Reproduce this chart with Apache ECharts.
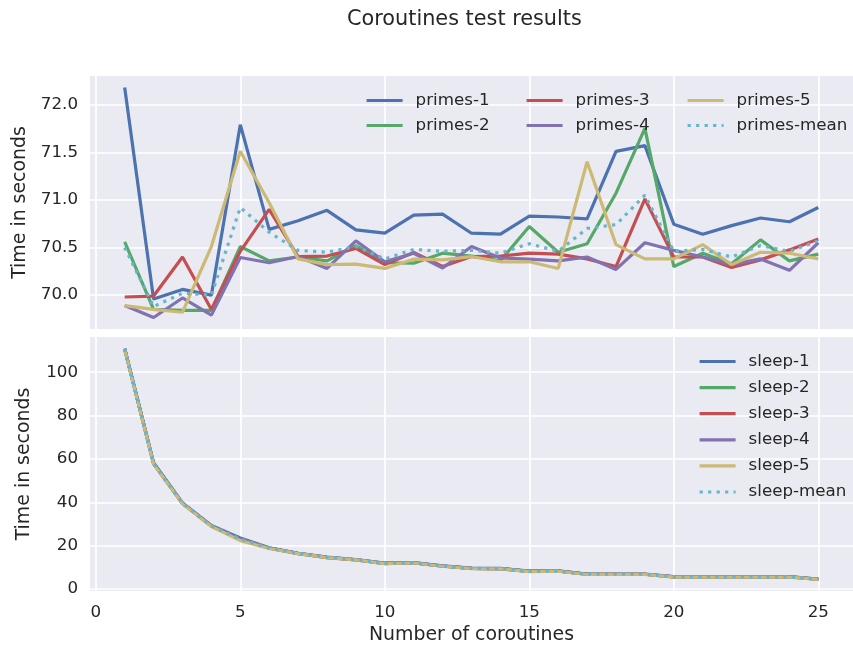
<!DOCTYPE html>
<html>
<head>
<meta charset="utf-8">
<title>Coroutines test results</title>
<script src="https://cdn.jsdelivr.net/npm/echarts@6/dist/echarts.min.js"></script>
<style>
  html, body { margin: 0; padding: 0; background: #ffffff; }
  #chart { width: 853px; height: 646px; }
</style>
</head>
<body>
<div id="chart"></div>
<script>
// Number of coroutines on the x axis
const coroutines = [1, 2, 3, 4, 5, 6, 7, 8, 9, 10, 11, 12, 13, 14, 15, 16, 17, 18, 19, 20, 21, 22, 23, 24, 25];

// Tick labels
const xTicks = [0, 5, 10, 15, 20, 25];
const primesTicks = [70.0, 70.5, 71.0, 71.5, 72.0];
const sleepTicks = [0, 20, 40, 60, 80, 100];

// CPU-bound runs (seconds)
const primes1 = [72.18, 69.96, 70.06, 70.00, 71.79, 70.69, 70.78, 70.89, 70.685, 70.65, 70.84, 70.85, 70.65, 70.64, 70.83, 70.82, 70.80, 71.51, 71.57, 70.745, 70.64, 70.73, 70.81, 70.77, 70.92];
const primes2 = [70.56, 69.85, 69.84, 69.84, 70.51, 70.36, 70.40, 70.36, 70.52, 70.34, 70.335, 70.44, 70.41, 70.36, 70.72, 70.45, 70.54, 71.07, 71.75, 70.30, 70.44, 70.33, 70.58, 70.36, 70.43];
const primes3 = [69.98, 69.99, 70.40, 69.85, 70.46, 70.90, 70.405, 70.41, 70.49, 70.32, 70.447, 70.30, 70.405, 70.41, 70.44, 70.43, 70.38, 70.30, 71.01, 70.40, 70.40, 70.29, 70.37, 70.475, 70.59];
const primes4 = [69.89, 69.765, 69.97, 69.79, 70.395, 70.34, 70.405, 70.28, 70.57, 70.35, 70.44, 70.285, 70.51, 70.39, 70.377, 70.36, 70.40, 70.27, 70.55, 70.47, 70.40, 70.32, 70.38, 70.26, 70.55];
const primes5 = [69.89, 69.85, 69.82, 70.51, 71.51, 70.97, 70.38, 70.32, 70.325, 70.28, 70.377, 70.37, 70.405, 70.35, 70.35, 70.28, 71.40, 70.53, 70.38, 70.38, 70.53, 70.32, 70.45, 70.44, 70.38];
const primesMean = [70.50, 69.88, 70.02, 70.00, 70.92, 70.66, 70.47, 70.45, 70.51, 70.38, 70.48, 70.46, 70.47, 70.44, 70.54, 70.46, 70.70, 70.74, 71.05, 70.46, 70.48, 70.40, 70.52, 70.46, 70.57];

// IO-bound (sleep) runs (seconds)
const sleep1 = [110.9, 58.2, 39.7, 29.3, 23.5, 19.0, 16.5, 14.7, 13.6, 11.9, 12.2, 10.7, 9.6, 9.5, 8.2, 8.4, 6.9, 6.9, 6.9, 5.7, 5.7, 5.7, 5.7, 5.7, 4.6];
const sleep2 = [110.6, 57.8, 39.4, 29.1, 23.0, 18.9, 16.4, 14.6, 13.5, 11.8, 12.1, 10.6, 9.5, 9.4, 8.1, 8.3, 6.8, 6.8, 6.8, 5.6, 5.6, 5.6, 5.6, 5.6, 4.5];
const sleep3 = [110.7, 57.9, 39.5, 29.0, 22.9, 18.8, 16.4, 14.5, 13.4, 11.8, 12.0, 10.6, 9.5, 9.4, 8.1, 8.3, 6.8, 6.8, 6.8, 5.6, 5.6, 5.6, 5.6, 5.6, 4.5];
const sleep4 = [110.8, 57.9, 39.6, 29.1, 23.1, 18.9, 16.3, 14.6, 13.5, 11.7, 12.1, 10.5, 9.5, 9.3, 8.1, 8.2, 6.8, 6.8, 6.8, 5.6, 5.6, 5.6, 5.6, 5.6, 4.5];
const sleep5 = [110.5, 57.6, 39.3, 28.8, 22.3, 18.7, 16.3, 14.5, 13.4, 11.7, 12.0, 10.5, 9.4, 9.3, 8.0, 8.2, 6.7, 6.7, 6.7, 5.5, 5.5, 5.5, 5.5, 5.5, 4.4];
const sleepMean = [110.7, 57.9, 39.5, 29.1, 23.0, 18.9, 16.4, 14.6, 13.5, 11.8, 12.1, 10.6, 9.5, 9.4, 8.1, 8.3, 6.8, 6.8, 6.8, 5.6, 5.6, 5.6, 5.6, 5.6, 4.5];

const FONT = "'DejaVu Sans', sans-serif";
const TEXT = '#262626';
const palette = ['#4C72B0', '#55A868', '#C44E52', '#8172B2', '#CCB974', '#64B5CD'];
const LINE_W = 3.2;

// 5% padding around the data range on every axis
const padMin = v => v.min - 0.05 * (v.max - v.min);
const padMax = v => v.max + 0.05 * (v.max - v.min);

function lineSeries(name, values, color, dotted, idx) {
  return {
    name: name,
    type: 'line',
    xAxisIndex: idx,
    yAxisIndex: idx,
    data: coroutines.map((c, i) => [c, values[i]]),
    showSymbol: false,
    symbol: 'none',
    animation: false,
    color: color,
    lineStyle: {
      color: color,
      width: LINE_W,
      type: dotted ? [3.2, 5.3] : 'solid',
      cap: 'butt'
    },
    emphasis: { disabled: true }
  };
}

function xAxisDef(idx, withLabels) {
  return {
    type: 'value',
    gridIndex: idx,
    min: padMin,
    max: padMax,
    axisLine: { show: false },
    axisTick: { show: false, customValues: xTicks },
    axisLabel: {
      show: withLabels,
      customValues: xTicks,
      margin: 13,
      color: TEXT,
      fontFamily: FONT,
      fontSize: 16.7
    },
    splitLine: { show: true, lineStyle: { color: '#ffffff', width: 1.7 } },
    name: withLabels ? 'Number of coroutines' : '',
    nameLocation: 'middle',
    nameGap: 35,
    nameTextStyle: { color: TEXT, fontFamily: FONT, fontSize: 18.9 }
  };
}

function yAxisDef(idx, ticks, digits) {
  return {
    type: 'value',
    gridIndex: idx,
    min: padMin,
    max: padMax,
    axisLine: { show: false },
    axisTick: { show: false, customValues: ticks },
    axisLabel: {
      customValues: ticks,
      margin: 12,
      color: TEXT,
      fontFamily: FONT,
      fontSize: 16.7,
      formatter: v => v.toFixed(digits)
    },
    splitLine: { show: true, lineStyle: { color: '#ffffff', width: 1.7 } },
    name: 'Time in seconds',
    nameLocation: 'middle',
    nameGap: 56,
    nameTextStyle: { color: TEXT, fontFamily: FONT, fontSize: 18.9 }
  };
}

function legendDef(names, left, top, gap) {
  return {
    data: names,
    orient: 'vertical',
    left: left,
    top: top,
    padding: 0,
    itemWidth: 36,
    itemHeight: 20,
    itemGap: gap,
    selectedMode: false,
    // only the line sample is shown, no marker on it
    itemStyle: { opacity: 0 },
    lineStyle: { width: LINE_W },
    formatter: '{t|{name}}',
    textStyle: {
      color: TEXT,
      fontFamily: FONT,
      fontSize: 16.7,
      rich: { t: { color: TEXT, fontFamily: FONT, fontSize: 16.7, padding: [0, 0, 0, 8] } }
    }
  };
}

const chart = echarts.init(document.getElementById('chart'), null, { renderer: 'canvas' });

chart.setOption({
  backgroundColor: '#ffffff',
  animation: false,
  title: {
    text: 'Coroutines test results',
    left: 347,
    top: 9,
    padding: 0,
    textStyle: { color: TEXT, fontFamily: FONT, fontSize: 20.8, fontWeight: 'normal' }
  },
  legend: [
    legendDef(['primes-1', 'primes-2'], 365, 92, 8),
    legendDef(['primes-3', 'primes-4'], 525, 92, 8),
    legendDef(['primes-5', 'primes-mean'], 686, 92, 8),
    legendDef(['sleep-1', 'sleep-2', 'sleep-3', 'sleep-4', 'sleep-5', 'sleep-mean'], 698, 353, 9.1)
  ],
  grid: [
    { left: 90, top: 76, width: 775, height: 253, show: true, backgroundColor: '#EAEAF2', borderWidth: 0 },
    { left: 90, top: 337, width: 775, height: 255, show: true, backgroundColor: '#EAEAF2', borderWidth: 0 }
  ],
  xAxis: [xAxisDef(0, false), xAxisDef(1, true)],
  yAxis: [yAxisDef(0, primesTicks, 1), yAxisDef(1, sleepTicks, 0)],
  series: [
    lineSeries('primes-1', primes1, palette[0], false, 0),
    lineSeries('primes-2', primes2, palette[1], false, 0),
    lineSeries('primes-3', primes3, palette[2], false, 0),
    lineSeries('primes-4', primes4, palette[3], false, 0),
    lineSeries('primes-5', primes5, palette[4], false, 0),
    lineSeries('primes-mean', primesMean, palette[5], true, 0),
    lineSeries('sleep-1', sleep1, palette[0], false, 1),
    lineSeries('sleep-2', sleep2, palette[1], false, 1),
    lineSeries('sleep-3', sleep3, palette[2], false, 1),
    lineSeries('sleep-4', sleep4, palette[3], false, 1),
    lineSeries('sleep-5', sleep5, palette[4], false, 1),
    lineSeries('sleep-mean', sleepMean, palette[5], true, 1)
  ]
});
</script>
</body>
</html>
